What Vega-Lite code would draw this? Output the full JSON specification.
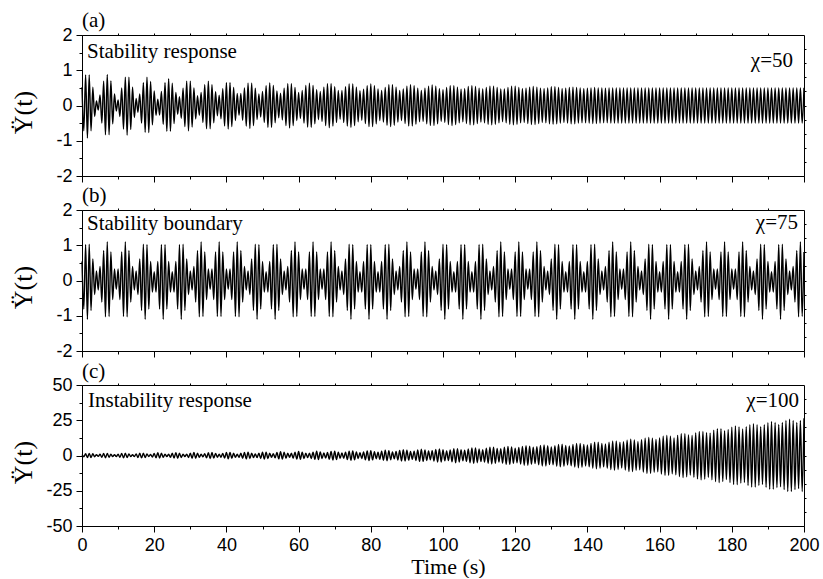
{
"$schema":"https://vega.github.io/schema/vega-lite/v6.json",
"padding":{"left":9,"top":9,"right":0,"bottom":0},
"bounds":"flush",
"spacing":34,
"config":{
"view":{"stroke":"black","strokeWidth":1},
"axis":{"domainColor":"black","domainWidth":1,"tickColor":"black","tickWidth":1,"labelColor":"black","labelFont":"Liberation Sans","labelFontSize":18,"labelPadding":4,"labelFlush":false,"labelOverlap":false,"grid":false,"titleColor":"black","titleFont":"Liberation Serif","titleFontWeight":"normal","titleFontSize":26},
"text":{"font":"Liberation Serif","color":"black"},
"line":{"color":"black","strokeWidth":1.4,"strokeJoin":"round","interpolate":"monotone"}
},
"datasets":{"sig":[{
"t":[0,0.5,1,1.5,2,2.5,3,3.5,4,4.5,5,5.5,6,6.5,7,7.5,8,8.5,9,9.5,10,10.5,11,11.5,12,12.5,13,13.5,14,14.5,15,15.5,16,16.5,17,17.5,18,18.5,19,19.5,20,20.5,21,21.5,22,22.5,23,23.5,24,24.5,25,25.5,26,26.5,27,27.5,28,28.5,29,29.5,30,30.5,31,31.5,32,32.5,33,33.5,34,34.5,35,35.5,36,36.5,37,37.5,38,38.5,39,39.5,40,40.5,41,41.5,42,42.5,43,43.5,44,44.5,45,45.5,46,46.5,47,47.5,48,48.5,49,49.5,50,50.5,51,51.5,52,52.5,53,53.5,54,54.5,55,55.5,56,56.5,57,57.5,58,58.5,59,59.5,60,60.5,61,61.5,62,62.5,63,63.5,64,64.5,65,65.5,66,66.5,67,67.5,68,68.5,69,69.5,70,70.5,71,71.5,72,72.5,73,73.5,74,74.5,75,75.5,76,76.5,77,77.5,78,78.5,79,79.5,80,80.5,81,81.5,82,82.5,83,83.5,84,84.5,85,85.5,86,86.5,87,87.5,88,88.5,89,89.5,90,90.5,91,91.5,92,92.5,93,93.5,94,94.5,95,95.5,96,96.5,97,97.5,98,98.5,99,99.5,100,100.5,101,101.5,102,102.5,103,103.5,104,104.5,105,105.5,106,106.5,107,107.5,108,108.5,109,109.5,110,110.5,111,111.5,112,112.5,113,113.5,114,114.5,115,115.5,116,116.5,117,117.5,118,118.5,119,119.5,120,120.5,121,121.5,122,122.5,123,123.5,124,124.5,125,125.5,126,126.5,127,127.5,128,128.5,129,129.5,130,130.5,131,131.5,132,132.5,133,133.5,134,134.5,135,135.5,136,136.5,137,137.5,138,138.5,139,139.5,140,140.5,141,141.5,142,142.5,143,143.5,144,144.5,145,145.5,146,146.5,147,147.5,148,148.5,149,149.5,150,150.5,151,151.5,152,152.5,153,153.5,154,154.5,155,155.5,156,156.5,157,157.5,158,158.5,159,159.5,160,160.5,161,161.5,162,162.5,163,163.5,164,164.5,165,165.5,166,166.5,167,167.5,168,168.5,169,169.5,170,170.5,171,171.5,172,172.5,173,173.5,174,174.5,175,175.5,176,176.5,177,177.5,178,178.5,179,179.5,180,180.5,181,181.5,182,182.5,183,183.5,184,184.5,185,185.5,186,186.5,187,187.5,188,188.5,189,189.5,190,190.5,191,191.5,192,192.5,193,193.5,194,194.5,195,195.5,196,196.5,197,197.5,198,198.5,199,199.5,200],
"a":[0.52,-0.72,0.87,-0.92,0.87,-0.72,0.52,-0.31,0.13,-0.13,0.3,-0.5,0.69,-0.83,0.88,-0.83,0.7,-0.52,0.33,-0.16,0.16,-0.31,0.5,-0.67,0.8,-0.84,0.8,-0.68,0.52,-0.34,0.2,-0.19,0.33,-0.5,0.65,-0.76,0.8,-0.77,0.68,-0.55,0.41,-0.28,0.18,-0.27,0.4,-0.53,0.65,-0.73,0.76,-0.73,0.63,-0.51,0.37,-0.25,0.25,-0.36,0.49,-0.6,0.69,-0.72,0.69,-0.61,0.5,-0.38,0.28,-0.28,0.37,-0.48,0.59,-0.66,0.69,-0.66,0.59,-0.49,0.39,-0.29,0.29,-0.38,0.48,-0.58,0.65,-0.67,0.65,-0.6,0.51,-0.43,0.34,-0.28,0.34,-0.42,0.5,-0.58,0.63,-0.65,0.63,-0.57,0.49,-0.4,0.33,-0.33,0.4,-0.48,0.56,-0.62,0.64,-0.62,0.57,-0.49,0.41,-0.35,0.35,-0.41,0.49,-0.57,0.62,-0.64,0.62,-0.57,0.51,-0.43,0.37,-0.37,0.43,-0.5,0.57,-0.61,0.63,-0.62,0.57,-0.52,0.45,-0.4,0.4,-0.45,0.52,-0.57,0.62,-0.63,0.62,-0.58,0.53,-0.48,0.43,-0.39,0.43,-0.48,0.53,-0.58,0.61,-0.62,0.61,-0.57,0.52,-0.46,0.42,-0.42,0.46,-0.51,0.56,-0.6,0.61,-0.6,0.56,-0.52,0.47,-0.43,0.43,-0.47,0.51,-0.56,0.59,-0.6,0.59,-0.56,0.52,-0.47,0.43,-0.43,0.47,-0.51,0.55,-0.58,0.59,-0.58,0.56,-0.53,0.49,-0.46,0.43,-0.45,0.49,-0.52,0.55,-0.57,0.58,-0.57,0.55,-0.52,0.48,-0.45,0.45,-0.48,0.51,-0.54,0.56,-0.57,0.56,-0.54,0.52,-0.49,0.46,-0.46,0.48,-0.51,0.54,-0.55,0.56,-0.55,0.54,-0.51,0.49,-0.47,0.47,-0.49,0.51,-0.53,0.55,-0.55,0.55,-0.53,0.51,-0.49,0.47,-0.46,0.47,-0.49,0.51,-0.53,0.55,-0.55,0.55,-0.53,0.51,-0.49,0.48,-0.48,0.49,-0.51,0.52,-0.54,0.54,-0.54,0.52,-0.51,0.49,-0.48,0.48,-0.49,0.5,-0.52,0.53,-0.53,0.53,-0.52,0.51,-0.5,0.48,-0.48,0.49,-0.5,0.51,-0.52,0.52,-0.52,0.51,-0.5,0.5,-0.49,0.48,-0.49,0.49,-0.5,0.5,-0.51,0.51,-0.51,0.5,-0.5,0.5,-0.49,0.49,-0.49,0.5,-0.5,0.5,-0.5,0.5,-0.5,0.5,-0.5,0.5,-0.5,0.5,-0.5,0.5,-0.5,0.5,-0.5,0.5,-0.5,0.5,-0.5,0.5,-0.5,0.5,-0.5,0.5,-0.5,0.5,-0.5,0.5,-0.5,0.5,-0.5,0.5,-0.5,0.5,-0.5,0.5,-0.5,0.5,-0.5,0.5,-0.5,0.5,-0.5,0.5,-0.5,0.5,-0.5,0.5,-0.5,0.5,-0.5,0.5,-0.5,0.5,-0.5,0.5,-0.5,0.5,-0.5,0.5,-0.5,0.5,-0.5,0.5,-0.5,0.5,-0.5,0.5,-0.5,0.5,-0.5,0.5,-0.5,0.5,-0.5,0.5,-0.5,0.5,-0.5,0.5,-0.5,0.5,-0.5,0.5,-0.5,0.5,-0.5,0.5,-0.5,0.5,-0.5,0.5,-0.5,0.5,-0.5,0.5,-0.5,0.5,-0.5,0.5,-0.5,0.5,-0.5,0.5,-0.5,0.5,-0.5,0.5,-0.5,0.5,-0.5,0.5,-0.5,0.5,-0.5,0.5,-0.5,0.5,-0.5,0.5,-0.5,0.5,-0.5,0.5,-0.5,0.5,-0.5,0.5],
"b":[0.54,-0.81,1.02,-1.1,1.03,-0.85,0.61,-0.4,0.27,-0.27,0.4,-0.61,0.85,-1.03,1.1,-1.02,0.81,-0.54,0.33,-0.25,0.33,-0.54,0.81,-1.02,1.1,-1.03,0.85,-0.61,0.4,-0.27,0.27,-0.4,0.61,-0.85,1.03,-1.1,1.02,-0.81,0.54,-0.33,0.25,-0.33,0.54,-0.81,1.02,-1.1,1.02,-0.81,0.54,-0.33,0.25,-0.33,0.54,-0.81,1.02,-1.1,1.03,-0.85,0.61,-0.4,0.27,-0.27,0.4,-0.61,0.85,-1.03,1.1,-1.02,0.81,-0.54,0.33,-0.25,0.33,-0.54,0.81,-1.02,1.1,-1.02,0.81,-0.54,0.33,-0.25,0.33,-0.54,0.81,-1.02,1.1,-1.03,0.85,-0.61,0.4,-0.27,0.27,-0.4,0.61,-0.85,1.03,-1.1,1.02,-0.81,0.54,-0.33,0.25,-0.33,0.54,-0.81,1.02,-1.1,1.03,-0.85,0.61,-0.4,0.27,-0.27,0.4,-0.61,0.85,-1.03,1.1,-1.02,0.81,-0.54,0.33,-0.25,0.33,-0.54,0.81,-1.02,1.1,-1.02,0.81,-0.54,0.33,-0.25,0.33,-0.54,0.81,-1.02,1.1,-1.03,0.85,-0.61,0.4,-0.27,0.27,-0.4,0.61,-0.85,1.03,-1.1,1.02,-0.81,0.54,-0.33,0.25,-0.33,0.54,-0.81,1.02,-1.1,1.02,-0.81,0.54,-0.33,0.25,-0.33,0.54,-0.81,1.02,-1.1,1.03,-0.85,0.61,-0.4,0.27,-0.27,0.4,-0.61,0.85,-1.03,1.1,-1.02,0.81,-0.54,0.33,-0.25,0.33,-0.54,0.81,-1.02,1.1,-1.03,0.85,-0.61,0.4,-0.27,0.27,-0.4,0.61,-0.85,1.03,-1.1,1.02,-0.81,0.54,-0.33,0.25,-0.33,0.54,-0.81,1.02,-1.1,1.02,-0.81,0.54,-0.33,0.25,-0.33,0.54,-0.81,1.02,-1.1,1.03,-0.85,0.61,-0.4,0.27,-0.27,0.4,-0.61,0.85,-1.03,1.1,-1.02,0.81,-0.54,0.33,-0.25,0.33,-0.54,0.81,-1.02,1.1,-1.02,0.81,-0.54,0.33,-0.25,0.33,-0.54,0.81,-1.02,1.1,-1.03,0.85,-0.61,0.4,-0.27,0.27,-0.4,0.61,-0.85,1.03,-1.1,1.02,-0.81,0.54,-0.33,0.25,-0.33,0.54,-0.81,1.02,-1.1,1.02,-0.81,0.54,-0.33,0.25,-0.33,0.54,-0.81,1.02,-1.1,1.03,-0.85,0.61,-0.4,0.27,-0.27,0.4,-0.61,0.85,-1.03,1.1,-1.02,0.81,-0.54,0.33,-0.25,0.33,-0.54,0.81,-1.02,1.1,-1.03,0.85,-0.61,0.4,-0.27,0.27,-0.4,0.61,-0.85,1.03,-1.1,1.02,-0.81,0.54,-0.33,0.25,-0.33,0.54,-0.81,1.02,-1.1,1.02,-0.81,0.54,-0.33,0.25,-0.33,0.54,-0.81,1.02,-1.1,1.03,-0.85,0.61,-0.4,0.27,-0.27,0.4,-0.61,0.85,-1.03,1.1,-1.02,0.81,-0.54,0.33,-0.25,0.33,-0.54,0.81,-1.02,1.1,-1.02,0.81,-0.54,0.33,-0.25,0.33,-0.54,0.81,-1.02,1.1,-1.03,0.85,-0.61,0.4,-0.27,0.27,-0.4,0.61,-0.85,1.03,-1.1,1.02,-0.81,0.54,-0.33,0.25,-0.33,0.54,-0.81,1.02,-1.1,1.03,-0.85,0.61,-0.4,0.27,-0.27,0.4,-0.61,0.85,-1.03,1.1,-1.02,0.81],
"c":[0.6,-0.9,1.2,-1.4,1.5,-1.4,1.2,-0.9,0.6,-0.6,0.9,-1.2,1.4,-1.6,1.5,-1.3,1,-0.8,0.6,-0.8,1,-1.3,1.5,-1.7,1.6,-1.4,1.1,-0.8,0.6,-0.8,1.1,-1.4,1.6,-1.7,1.6,-1.4,1.1,-0.8,0.8,-1.1,1.4,-1.6,1.9,-1.8,1.6,-1.3,1,-0.8,1,-1.3,1.6,-1.8,2,-1.9,1.6,-1.4,1,-0.8,1,-1.4,1.6,-1.9,2.1,-1.9,1.7,-1.3,1,-1,1.3,-1.7,1.9,-2.2,2.1,-1.8,1.5,-1.2,1,-1.2,1.5,-1.8,2.1,-2.3,2.2,-1.9,1.6,-1.3,1,-1.3,1.6,-1.9,2.2,-2.4,2.3,-2.1,1.7,-1.4,1.1,-1.4,1.7,-2.1,2.3,-2.5,2.4,-2.1,1.7,-1.3,1.3,-1.7,2.1,-2.4,2.7,-2.6,2.3,-1.9,1.6,-1.3,1.6,-1.9,2.3,-2.6,2.8,-2.7,2.4,-2.1,1.7,-1.5,1.7,-2.1,2.4,-2.7,3,-2.9,2.6,-2.1,1.8,-1.8,2.1,-2.6,2.9,-3.2,3.1,-2.8,2.4,-2,1.8,-2,2.4,-2.8,3.1,-3.4,3.3,-3,2.6,-2.2,1.9,-2.2,2.6,-3,3.3,-3.6,3.4,-3.1,2.7,-2.3,2.3,-2.7,3.1,-3.4,3.8,-3.7,3.4,-3,2.6,-2.4,2.8,-3.2,3.6,-3.9,4.1,-3.9,3.7,-3.3,2.9,-2.7,3.1,-3.5,3.9,-4.2,4.4,-4.2,4,-3.6,3.2,-3,3.4,-3.9,4.3,-4.6,4.7,-4.6,4.2,-3.8,3.3,-3.6,4,-4.5,4.9,-5.1,4.9,-4.6,4.2,-3.8,3.7,-4.2,4.6,-5.1,5.4,-5.5,5.4,-5.1,4.7,-4.3,4.1,-4.7,5.1,-5.5,5.9,-6,5.9,-5.5,5,-4.6,4.9,-5.4,5.9,-6.3,6.4,-6.3,6,-5.6,5.2,-5.1,5.7,-6.1,6.5,-6.9,7,-6.9,6.6,-6.2,5.8,-5.7,6.2,-6.6,7.1,-7.4,7.5,-7.4,7,-6.5,6.1,-6.6,7,-7.6,7.9,-8.1,8,-7.7,7.2,-6.8,6.7,-7.3,7.8,-8.2,8.6,-8.7,8.6,-8.3,7.8,-7.4,7.4,-8.1,8.5,-9,9.4,-9.5,9.4,-9,8.6,-8.1,8.2,-9,9.5,-10,10.4,-10.5,10.3,-9.9,9.4,-8.9,9.7,-10.3,10.9,-11.3,11.5,-11.4,11,-10.5,10,-10.2,11.2,-11.7,12.2,-12.7,12.8,-12.7,12.3,-11.8,11.3,-11.5,12.5,-13.1,13.6,-14.1,14.2,-14,13.6,-13,12.4,-13.7,14.3,-15,15.5,-15.7,15.5,-15.1,14.5,-13.9,14.2,-15.4,16,-16.6,17.1,-17.3,17.1,-16.7,16.1,-15.5,15.9,-17.2,17.9,-18.5,19,-19.2,19,-18.4,17.6,-17,18.5,-19.2,20,-20.6,20.9,-20.7,20.2,-19.6,18.9,-19.1,20.4,-21.2,21.9,-22.4,22.6,-22.4,21.9,-21.2,20.4,-20.5,21.8,-22.6,23.3,-23.9,24.1,-23.9,23.4,-22.7,22,-22.2,23.4,-24.2,24.9,-25.5,25.7,-25.5,24.9,-24.2,23.4,-23.5,24.8,-25.6,26.4]
}]},
"vconcat":[
{
"width":722,"height":141,
"resolve":{"axis":{"x":"independent","y":"independent"}},
"layer":[
{"data":{"name":"sig"},"transform":[{"flatten":["t","a","b","c"]}],
"mark":{"type":"line"},
"encoding":{
"x":{"field":"t","type":"quantitative","scale":{"domain":[0,200],"nice":false},"axis":{"orient":"bottom","values":[0,10,20,30,40,50,60,70,80,90,100,110,120,130,140,150,160,170,180,190,200],"labels":false,"title":null,"tickSize":{"condition":{"test":"datum.value % 20 === 0","value":6},"value":3}}},
"y":{"field":"a","type":"quantitative","scale":{"domain":[-2,2],"nice":false},"axis":{"orient":"left","values":[-2,-1.5,-1,-0.5,0,0.5,1,1.5,2],"labelExpr":"datum.value % 1 === 0 ? '' + datum.value : ''","tickSize":{"condition":{"test":"datum.value % 1 === 0","value":6},"value":3},"title":"Ÿ(t)","titleFontWeight":"normal","titleX":-51,"titleY":77,"titleBaseline":"alphabetic","titleAngle":-90}}
}},
{"data":{"values":[{"s":"(a)"}]},"mark":{"type":"text","align":"left","baseline":"alphabetic","dy":-8,"fontSize":21},
"encoding":{"x":{"datum":0,"type":"quantitative","scale":{"domain":[0,200],"nice":false},"axis":null},"y":{"datum":2,"type":"quantitative","scale":{"domain":[-2,2],"nice":false},"axis":null},"text":{"field":"s"}}},
{"data":{"values":[{"s":"Stability response"}]},"mark":{"type":"text","align":"left","baseline":"alphabetic","dx":5,"dy":23,"fontSize":21},
"encoding":{"x":{"datum":0,"type":"quantitative","scale":{"domain":[0,200],"nice":false},"axis":null},"y":{"datum":2,"type":"quantitative","scale":{"domain":[-2,2],"nice":false},"axis":null},"text":{"field":"s"}}},
{"data":{"values":[{"s":"χ=50"}]},"mark":{"type":"text","align":"right","baseline":"alphabetic","dx":-11,"dy":32,"fontSize":21},
"encoding":{"x":{"datum":200,"type":"quantitative","scale":{"domain":[0,200],"nice":false},"axis":{"orient":"top","values":[10,20,30,40,50,60,70,80,90,100,110,120,130,140,150,160,170,180,190],"labels":false,"domain":false,"tickSize":2,"title":null}},"y":{"datum":2,"type":"quantitative","scale":{"domain":[-2,2],"nice":false},"axis":{"orient":"right","values":[-1.6,-1.2,-0.8,-0.4,0,0.4,0.8,1.2,1.6],"labels":false,"domain":false,"tickSize":2,"title":null}},"text":{"field":"s"}}}
]
},
{
"width":722,"height":141,
"resolve":{"axis":{"x":"independent","y":"independent"}},
"layer":[
{"data":{"name":"sig"},"transform":[{"flatten":["t","a","b","c"]}],
"mark":{"type":"line"},
"encoding":{
"x":{"field":"t","type":"quantitative","scale":{"domain":[0,200],"nice":false},"axis":{"orient":"bottom","values":[0,10,20,30,40,50,60,70,80,90,100,110,120,130,140,150,160,170,180,190,200],"labels":false,"title":null,"tickSize":{"condition":{"test":"datum.value % 20 === 0","value":6},"value":3}}},
"y":{"field":"b","type":"quantitative","scale":{"domain":[-2,2],"nice":false},"axis":{"orient":"left","values":[-2,-1.5,-1,-0.5,0,0.5,1,1.5,2],"labelExpr":"datum.value % 1 === 0 ? '' + datum.value : ''","tickSize":{"condition":{"test":"datum.value % 1 === 0","value":6},"value":3},"title":"Ÿ(t)","titleFontWeight":"normal","titleX":-51,"titleY":77,"titleBaseline":"alphabetic","titleAngle":-90}}
}},
{"data":{"values":[{"s":"(b)"}]},"mark":{"type":"text","align":"left","baseline":"alphabetic","dy":-8,"fontSize":21},
"encoding":{"x":{"datum":0,"type":"quantitative","scale":{"domain":[0,200],"nice":false},"axis":null},"y":{"datum":2,"type":"quantitative","scale":{"domain":[-2,2],"nice":false},"axis":null},"text":{"field":"s"}}},
{"data":{"values":[{"s":"Stability boundary"}]},"mark":{"type":"text","align":"left","baseline":"alphabetic","dx":5,"dy":20,"fontSize":21},
"encoding":{"x":{"datum":0,"type":"quantitative","scale":{"domain":[0,200],"nice":false},"axis":null},"y":{"datum":2,"type":"quantitative","scale":{"domain":[-2,2],"nice":false},"axis":null},"text":{"field":"s"}}},
{"data":{"values":[{"s":"χ=75"}]},"mark":{"type":"text","align":"right","baseline":"alphabetic","dx":-6,"dy":19,"fontSize":21},
"encoding":{"x":{"datum":200,"type":"quantitative","scale":{"domain":[0,200],"nice":false},"axis":{"orient":"top","values":[10,20,30,40,50,60,70,80,90,100,110,120,130,140,150,160,170,180,190],"labels":false,"domain":false,"tickSize":2,"title":null}},"y":{"datum":2,"type":"quantitative","scale":{"domain":[-2,2],"nice":false},"axis":{"orient":"right","values":[-1.6,-1.2,-0.8,-0.4,0,0.4,0.8,1.2,1.6],"labels":false,"domain":false,"tickSize":2,"title":null}},"text":{"field":"s"}}}
]
},
{
"width":722,"height":141,
"resolve":{"axis":{"x":"independent","y":"independent"}},
"layer":[
{"data":{"name":"sig"},"transform":[{"flatten":["t","a","b","c"]}],
"mark":{"type":"line"},
"encoding":{
"x":{"field":"t","type":"quantitative","scale":{"domain":[0,200],"nice":false},"axis":{"orient":"bottom","values":[0,10,20,30,40,50,60,70,80,90,100,110,120,130,140,150,160,170,180,190,200],"labelExpr":"datum.value % 20 === 0 ? '' + datum.value : ''","tickSize":{"condition":{"test":"datum.value % 20 === 0","value":6},"value":3},"labelPadding":4,"title":"Time (s)","titleFontWeight":"normal","titleFontSize":22,"titleX":366,"titleY":47,"titleBaseline":"alphabetic"}},
"y":{"field":"c","type":"quantitative","scale":{"domain":[-50,50],"nice":false},"axis":{"orient":"left","values":[-50,-37.5,-25,-12.5,0,12.5,25,37.5,50],"labelExpr":"datum.value % 25 === 0 ? '' + datum.value : ''","tickSize":{"condition":{"test":"datum.value % 25 === 0","value":6},"value":3},"title":"Ÿ(t)","titleFontWeight":"normal","titleX":-51,"titleY":77,"titleBaseline":"alphabetic","titleAngle":-90}}
}},
{"data":{"values":[{"s":"(c)"}]},"mark":{"type":"text","align":"left","baseline":"alphabetic","dy":-7,"fontSize":21},
"encoding":{"x":{"datum":0,"type":"quantitative","scale":{"domain":[0,200],"nice":false},"axis":null},"y":{"datum":50,"type":"quantitative","scale":{"domain":[-50,50],"nice":false},"axis":null},"text":{"field":"s"}}},
{"data":{"values":[{"s":"Instability response"}]},"mark":{"type":"text","align":"left","baseline":"alphabetic","dx":6,"dy":22,"fontSize":21},
"encoding":{"x":{"datum":0,"type":"quantitative","scale":{"domain":[0,200],"nice":false},"axis":null},"y":{"datum":50,"type":"quantitative","scale":{"domain":[-50,50],"nice":false},"axis":null},"text":{"field":"s"}}},
{"data":{"values":[{"s":"χ=100"}]},"mark":{"type":"text","align":"right","baseline":"alphabetic","dx":-5,"dy":22,"fontSize":21},
"encoding":{"x":{"datum":200,"type":"quantitative","scale":{"domain":[0,200],"nice":false},"axis":{"orient":"top","values":[10,20,30,40,50,60,70,80,90,100,110,120,130,140,150,160,170,180,190],"labels":false,"domain":false,"tickSize":2,"title":null}},"y":{"datum":50,"type":"quantitative","scale":{"domain":[-50,50],"nice":false},"axis":{"orient":"right","values":[-40,-30,-20,-10,0,10,20,30,40],"labels":false,"domain":false,"tickSize":2,"title":null}},"text":{"field":"s"}}}
]
}
]
}
